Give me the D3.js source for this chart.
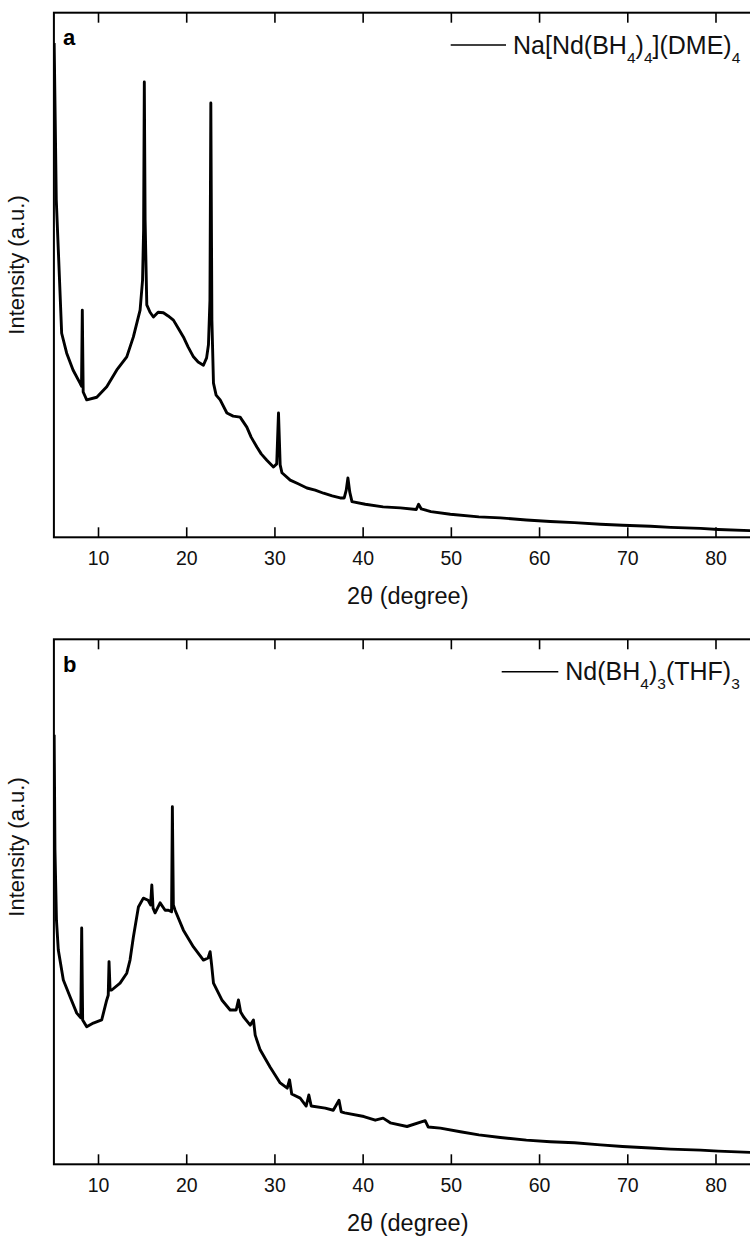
<!DOCTYPE html>
<html>
<head>
<meta charset="utf-8">
<script src="https://cdn.jsdelivr.net/npm/d3@7/dist/d3.min.js"></script>
<style>
  html, body { margin: 0; padding: 0; background: #fff; }
  svg { display: block; font-family: "Liberation Sans", Arial, sans-serif; }
</style>
</head>
<body>
<svg id="chart" width="750" height="1241"></svg>
<script>
// XRD pattern of Na[Nd(BH4)4](DME)4 : 2θ (degree) and intensity (a.u.)
const thetaA = [5.03,5.15,5.27,5.50,5.88,6.45,7.17,7.96,8.13,8.22,8.32,8.72,9.86,10.99,12.13,13.26,14.01,14.77,15.05,15.17,15.25,15.34,15.53,15.90,16.28,16.81,17.41,17.95,18.55,19.08,19.68,20.21,20.82,21.35,21.95,22.31,22.52,22.69,22.79,22.91,23.09,23.39,23.85,24.61,25.32,26.11,26.87,27.36,28.01,28.50,29.14,29.89,30.26,30.46,30.65,30.85,31.79,32.69,33.68,34.62,35.57,36.55,37.46,37.91,38.14,38.33,38.54,38.79,40.30,42.32,44.27,46.08,46.34,46.65,47.74,49.94,53.17,55.61,58.56,61.28,64.01,66.96,69.46,72.64,74.91,78.31,80.31,85.0];
const intensityA = [94.2,79.5,64.3,54.8,38.9,35.1,31.9,29.4,28.8,43.3,27.7,26.2,26.7,28.7,31.9,34.4,38.2,43.3,49.0,58.6,86.8,60.5,44.3,42.9,42.0,42.9,42.8,42.2,41.4,39.9,38.2,36.3,34.4,33.4,32.8,34.2,36.7,45.2,82.8,41.4,29.4,27.1,26.2,23.7,23.1,22.9,21.0,19.1,17.2,15.9,14.7,13.4,14.0,23.7,13.8,12.3,10.9,10.2,9.4,9.0,8.4,7.9,7.5,7.5,9.0,11.3,8.6,6.8,6.3,5.8,5.6,5.3,6.3,5.4,4.9,4.4,3.9,3.7,3.3,3.0,2.8,2.5,2.3,2.1,1.9,1.7,1.5,1.2];

// XRD pattern of Nd(BH4)3(THF)3
const thetaB = [5.03,5.12,5.29,5.50,6.07,6.83,7.59,8.05,8.15,8.26,8.72,9.47,10.42,10.99,11.16,11.25,11.37,11.56,12.50,13.26,13.63,14.01,14.58,15.14,15.68,15.96,16.10,16.24,16.47,17.04,17.61,17.98,18.34,18.43,18.54,18.74,19.68,20.82,21.95,22.48,22.71,22.88,23.09,24.04,24.98,25.66,25.92,26.17,26.49,27.25,27.62,27.82,28.38,29.52,30.65,31.45,31.71,31.96,32.92,33.60,33.90,34.17,35.76,36.67,37.32,37.57,37.97,40.14,41.43,42.32,43.13,45.03,47.09,47.44,48.81,51.08,53.17,55.61,58.56,61.28,64.01,66.96,69.46,72.64,74.91,78.31,80.31,85.0];
const intensityB = [81.8,59.9,46.5,40.8,35.1,31.9,28.8,27.9,45.0,27.5,26.2,26.9,27.5,31.3,32.2,38.6,33.2,33.2,34.5,36.4,38.9,43.3,49.0,50.7,50.3,49.4,53.2,48.8,47.9,49.8,48.4,48.4,48.1,68.1,49.4,48.4,44.6,41.4,38.9,39.3,40.5,38.0,34.5,31.3,29.4,29.4,31.3,29.0,28.1,26.5,27.5,24.6,21.8,18.5,15.5,14.5,16.1,13.4,12.6,11.1,13.2,11.1,10.7,10.3,12.2,10.0,9.8,9.1,8.4,8.8,7.9,7.2,8.3,7.1,6.9,6.2,5.6,5.1,4.6,4.3,4.1,3.7,3.4,3.1,2.9,2.7,2.5,2.2];

const xTicks = [10, 20, 30, 40, 50, 60, 70, 80];
const xDomain = [5, 85];
const xTitle = "2\u03b8 (degree)";
const yTitle = "Intensity (a.u.)";

const svg = d3.select("#chart");
const left = 53.9, right = 759.6;
const x = d3.scaleLinear().domain(xDomain).range([left, right]);

svg.append("defs").append("clipPath").attr("id", "plotClip")
  .append("rect").attr("x", left).attr("y", 0).attr("width", right - left).attr("height", 1241);

function panel(cfg) {
  const g = svg.append("g");
  const y = d3.scaleLinear().domain([0, 100]).range([cfg.bottom, cfg.top]);

  // bottom axis, ticks pointing inward
  const bottomAxis = d3.axisBottom(x).tickValues(xTicks).tickSize(-10).tickPadding(14.3).tickSizeOuter(0);
  const gb = g.append("g").attr("transform", `translate(0,${cfg.bottom})`).call(bottomAxis);
  gb.select(".domain").remove();
  gb.selectAll(".tick line").attr("stroke", "#000").attr("stroke-width", 1.6);
  gb.selectAll(".tick text").attr("font-size", 19.5).attr("fill", "#111")
    .attr("font-family", "'Liberation Sans', Arial, sans-serif");

  // top axis, unlabeled inward ticks
  const topAxis = d3.axisTop(x).tickValues(xTicks).tickSize(-10).tickFormat("").tickSizeOuter(0);
  const gt = g.append("g").attr("transform", `translate(0,${cfg.top})`).call(topAxis);
  gt.select(".domain").remove();
  gt.selectAll(".tick line").attr("stroke", "#000").attr("stroke-width", 1.6);

  // frame
  g.append("rect").attr("x", left).attr("y", cfg.top)
    .attr("width", right - left).attr("height", cfg.bottom - cfg.top)
    .attr("fill", "none").attr("stroke", "#000").attr("stroke-width", 2);

  // pattern
  const line = d3.line().x((d, i) => x(cfg.theta[i])).y((d) => y(d));
  g.append("path").datum(cfg.intensity)
    .attr("clip-path", "url(#plotClip)")
    .attr("fill", "none").attr("stroke", "#000")
    .attr("stroke-width", 2.9).attr("stroke-linejoin", "round")
    .attr("d", line);

  // panel letter
  g.append("text").attr("x", 63).attr("y", cfg.top + 32.5)
    .attr("font-size", 22).attr("font-weight", "bold").text(cfg.letter);

  // legend
  const ly = cfg.top + cfg.legendDy;
  g.append("line").attr("x1", cfg.legendX1).attr("x2", cfg.legendX2)
    .attr("y1", ly).attr("y2", ly).attr("stroke", "#000").attr("stroke-width", 1.6);
  const t = g.append("text").attr("x", cfg.legendX2 + 7).attr("y", ly + 8.5)
    .attr("fill", "#111");
  let shift = 0;
  cfg.legend.forEach(([s, sub]) => {
    t.append("tspan").attr("font-size", 25).attr("dy", -shift).text(s);
    shift = 0;
    if (sub) {
      t.append("tspan").attr("font-size", 15.5).attr("dy", 9).text(sub);
      shift = 9;
    }
  });

  // axis titles
  g.append("text").attr("x", (left + right) / 2 + 1).attr("y", cfg.bottom + 66.7)
    .attr("text-anchor", "middle").attr("font-size", 23.5).attr("fill", "#111").text(xTitle);
  g.append("text").attr("transform", `translate(24,${cfg.yTitleY}) rotate(-90)`)
    .attr("text-anchor", "middle").attr("font-size", 22).attr("fill", "#111").text(yTitle);
}

panel({
  top: 12.7, bottom: 537.3, theta: thetaA, intensity: intensityA, letter: "a",
  legendX1: 450.7, legendX2: 506, legendDy: 32.3, yTitleY: 265,
  legend: [["Na[Nd(BH", "4"], [")", "4"], ["](DME)", "4"]]
});
panel({
  top: 639.3, bottom: 1164.3, theta: thetaB, intensity: intensityB, letter: "b",
  legendX1: 501.7, legendX2: 558.3, legendDy: 32.4, yTitleY: 847,
  legend: [["Nd(BH", "4"], [")", "3"], ["(THF)", "3"]]
});
</script>
</body>
</html>
